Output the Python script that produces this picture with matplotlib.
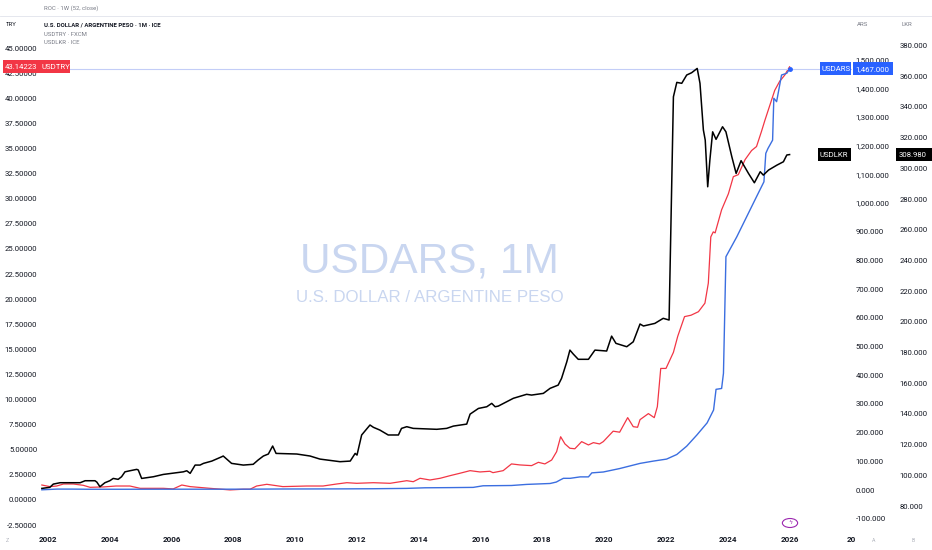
import matplotlib
matplotlib.use('Agg')
import matplotlib.pyplot as plt
import matplotlib.transforms as mtransforms
from matplotlib.patches import Rectangle, Circle
from matplotlib.ticker import FixedLocator, FuncFormatter

W, H = 932, 550

# USDLKR (black, right-most LKR scale)
lkr_t = [2001.80, 2002.06, 2002.17, 2002.39, 2003.04, 2003.20, 2003.52, 2003.58, 2003.68, 2003.84,
         2004.00, 2004.11, 2004.27, 2004.38, 2004.49, 2004.65, 2004.87, 2004.92, 2005.03, 2005.41,
         2005.73, 2006.38, 2006.49, 2006.60, 2006.76, 2006.92, 2007.03, 2007.30, 2007.62, 2007.67,
         2007.94, 2008.32, 2008.64, 2008.80, 2008.97, 2009.13, 2009.27, 2009.38, 2010.05, 2010.48,
         2010.80, 2011.45, 2011.78, 2011.94, 2012.00, 2012.15, 2012.42, 2012.53, 2012.74, 2013.01,
         2013.34, 2013.44, 2013.61, 2013.82, 2014.58, 2014.90, 2015.12, 2015.55, 2015.66, 2015.93,
         2016.20, 2016.36, 2016.47, 2016.57, 2017.06, 2017.49, 2017.65, 2018.03, 2018.25, 2018.51,
         2018.62, 2018.79, 2018.89, 2019.00, 2019.16, 2019.49, 2019.70, 2020.08, 2020.24, 2020.38,
         2020.73, 2020.94, 2021.16, 2021.27, 2021.64, 2021.91, 2022.10, 2022.24, 2022.35, 2022.51,
         2022.67, 2022.83, 2023.01, 2023.10, 2023.21, 2023.27, 2023.35, 2023.42, 2023.51, 2023.62,
         2023.83, 2023.94, 2024.13, 2024.27, 2024.43, 2024.67, 2024.86, 2025.05, 2025.15, 2025.32,
         2025.59, 2025.80, 2025.91, 2026.00]
lkr_v = [91.5, 92.2, 94.3, 95.2, 95.2, 96.5, 96.5, 95.6, 92.6, 95.2,
         96.5, 98.0, 97.4, 99.1, 102.3, 103.0, 103.9, 103.5, 98.0, 99.1,
         100.6, 102.3, 103.0, 101.3, 106.7, 106.7, 107.8, 109.3, 112.1, 112.6,
         107.8, 106.7, 107.2, 110.0, 112.6, 113.9, 119.1, 114.3, 113.9, 112.6,
         110.6, 108.9, 109.3, 114.3, 113.2, 126.3, 132.8, 131.3, 129.5, 126.3,
         126.3, 130.6, 131.7, 130.6, 130.0, 130.6, 132.1, 133.4, 139.9, 143.6,
         144.7, 146.9, 144.7, 145.1, 150.2, 152.8, 152.3, 153.4, 156.7, 158.8,
         163.2, 174.0, 181.6, 179.0, 175.6, 175.6, 181.6, 181.0, 190.7, 186.0,
         183.8, 187.0, 198.6, 197.3, 199.0, 202.3, 201.2, 346.6, 356.0, 355.4,
         360.8, 362.3, 365.1, 355.4, 325.0, 318.4, 288.0, 305.4, 323.8, 318.9,
         327.1, 323.8, 307.6, 296.7, 305.0, 296.7, 290.6, 297.8, 295.6, 298.9,
         302.1, 304.3, 308.7, 308.98]

# USDTRY (red, left TRY scale)
try_t = [2001.80, 2002.06, 2002.28, 2002.50, 2002.82, 2003.14, 2003.36, 2003.80, 2004.20, 2004.65,
         2004.98, 2005.73, 2006.05, 2006.33, 2006.60, 2007.24, 2007.89, 2008.32, 2008.54, 2008.75,
         2009.08, 2009.60, 2010.37, 2010.90, 2011.34, 2011.67, 2011.99, 2012.53, 2013.07, 2013.61,
         2013.82, 2014.04, 2014.36, 2014.69, 2015.01, 2015.33, 2015.66, 2015.98, 2016.30, 2016.40,
         2016.73, 2017.00, 2017.27, 2017.65, 2017.87, 2018.08, 2018.30, 2018.46, 2018.59, 2018.73,
         2018.89, 2019.05, 2019.27, 2019.49, 2019.65, 2019.85, 2019.97, 2020.29, 2020.50, 2020.76,
         2020.94, 2021.08, 2021.16, 2021.43, 2021.62, 2021.72, 2021.83, 2022.00, 2022.24, 2022.38,
         2022.60, 2022.81, 2023.05, 2023.26, 2023.37, 2023.45, 2023.53, 2023.59, 2023.80, 2024.02,
         2024.18, 2024.34, 2024.56, 2024.77, 2024.93, 2025.09, 2025.20, 2025.36, 2025.52, 2025.68,
         2025.84, 2026.00]
try_v = [1.49, 1.33, 1.39, 1.59, 1.59, 1.46, 1.26, 1.30, 1.39, 1.39,
         1.16, 1.16, 1.10, 1.49, 1.33, 1.16, 1.00, 1.07, 1.07, 1.39,
         1.56, 1.33, 1.39, 1.39, 1.59, 1.72, 1.66, 1.72, 1.66, 1.92,
         1.82, 2.16, 1.99, 2.16, 2.42, 2.66, 2.92, 2.79, 2.86, 2.72,
         2.92, 3.59, 3.49, 3.42, 3.75, 3.59, 3.98, 4.81, 6.30, 5.58,
         5.15, 5.10, 5.81, 5.48, 5.71, 5.58, 5.81, 6.85, 6.75, 8.20,
         7.30, 7.24, 8.00, 8.60, 8.20, 9.29, 13.10, 13.10, 14.70, 16.30,
         18.26, 18.40, 18.75, 19.60, 21.60, 26.20, 26.70, 26.60, 28.90, 30.50,
         32.20, 32.40, 33.90, 34.80, 35.20, 36.70, 37.80, 39.30, 40.80, 41.70,
         42.30, 43.14223]

# USDARS (blue, ARS scale)
ars_t = [2001.80, 2002.30, 2002.80, 2003.30, 2004.50, 2006.00, 2007.50, 2008.50, 2009.50, 2010.50,
         2011.45, 2012.50, 2013.60, 2014.20, 2015.00, 2015.76, 2016.08, 2017.00, 2017.49, 2018.25,
         2018.45, 2018.57, 2018.68, 2018.90, 2019.22, 2019.49, 2019.60, 2019.97, 2020.50, 2021.16,
         2021.59, 2022.02, 2022.35, 2022.67, 2023.00, 2023.33, 2023.54, 2023.62, 2023.80, 2023.86,
         2023.94, 2024.29, 2024.61, 2024.93, 2025.17, 2025.23, 2025.30, 2025.45, 2025.49, 2025.58,
         2025.74, 2025.91, 2026.00]
ars_v = [1.0, 3.5, 3.4, 2.9, 2.9, 3.1, 3.1, 3.2, 3.8, 3.95,
         4.2, 4.7, 5.9, 8.0, 8.6, 9.4, 15.0, 16.0, 19.8, 23.0,
         28.0, 35.0, 41.0, 41.0, 46.0, 46.0, 60.0, 63.0, 75.0, 93.0,
         101.0, 108.0, 124.0, 153.0, 192.0, 234.0, 279.0, 351.0, 354.0, 407.0,
         813.0, 882.0, 952.0, 1022.0, 1074.0, 1173.0, 1190.0, 1219.0, 1365.0, 1353.0,
         1446.0, 1452.0, 1467.0]

try_ticks = [-2.5 + 2.5 * i for i in range(20)]
ars_ticks = [-100 + 100 * i for i in range(17)]
lkr_ticks = [80 + 20 * i for i in range(16)]
year_ticks = list(range(2002, 2030, 2))
year_labels = [str(y) for y in year_ticks[:-1]] + ['20']

RED = '#f23645'
BLUE = '#2962ff'
BLUE_LINE = '#3b6ee0'
TXT = '#131722'
GRAY = '#787b86'

plt.rcParams['font.family'] = ['Roboto', 'DejaVu Sans']

fig = plt.figure(figsize=(W / 100, H / 100), dpi=100)
fig.patch.set_facecolor('white')

left, right, top, bottom = 40, 852, 17, 532
ax = fig.add_axes([left / W, 1 - bottom / H, (right - left) / W, (bottom - top) / H])
ax_ars = ax.twinx()
ax_lkr = ax.twinx()

ax.set_xlim(2001.74, 2028.02)
ax.set_ylim(-3.19, 48.1)
ax_ars.set_ylim(-146, 1648)
ax_lkr.set_ylim(63.1, 398.6)

for a in (ax, ax_ars, ax_lkr):
    for s in a.spines.values():
        s.set_visible(False)
    a.tick_params(length=0, colors=TXT, labelsize=5.6)

# watermark
ax.text(0.48, 0.525, 'USDARS, 1M', transform=ax.transAxes, ha='center', va='center',
        fontsize=30.5, color='#c9d6f0', family='Liberation Sans', zorder=0)
ax.text(0.48, 0.455, 'U.S. DOLLAR / ARGENTINE PESO', transform=ax.transAxes, ha='center',
        va='center', fontsize=12.2, color='#c9d6f0', family='Liberation Sans', zorder=0)

ax_ars.axhline(ars_v[-1], color='#c3cdf7', lw=0.8, zorder=1)

ax_ars.plot(ars_t, ars_v, color=BLUE_LINE, lw=1.0, zorder=3)
ax.plot(try_t, try_v, color=RED, lw=0.9, zorder=4)
ax_lkr.plot(lkr_t, lkr_v, color='black', lw=1.1, zorder=5)
ax_ars.plot([ars_t[-1]], [ars_v[-1]], 'o', color=BLUE, ms=2.5, zorder=6)

ax.set_xticks(year_ticks)
ax.set_xticklabels(year_labels, fontsize=5.8, fontweight='bold')
ax.tick_params(axis='x', pad=3)

ax.yaxis.set_major_locator(FixedLocator(try_ticks))
ax.yaxis.set_major_formatter(FuncFormatter(lambda v, p: f'{v:.5f}'))
ax.tick_params(axis='y', pad=2)

ax_ars.yaxis.set_major_locator(FixedLocator(ars_ticks))
ax_ars.yaxis.set_major_formatter(FuncFormatter(lambda v, p: f'{v:,.3f}'))
ax_ars.tick_params(axis='y', pad=2.5)

ax_lkr.yaxis.set_major_locator(FixedLocator(lkr_ticks))
ax_lkr.yaxis.set_major_formatter(FuncFormatter(lambda v, p: f'{v:.3f}'))
ax_lkr.tick_params(axis='y', pad=34)


def px(x):
    return x / W


def label_box(axis, value, x0, x1, color, texts):
    tr = mtransforms.blended_transform_factory(fig.transFigure, axis.transData)
    yy = fig.transFigure.inverted().transform(axis.transData.transform((0, value)))[1]
    h = 13 / H
    fig.add_artist(Rectangle((px(x0), yy - h / 2), px(x1 - x0), h, transform=fig.transFigure,
                             facecolor=color, edgecolor='none', zorder=10))
    for tx, s in texts:
        fig.text(px(tx), value, s, transform=tr, color='white', fontsize=5.6, ha='left',
                 va='center', zorder=11)


label_box(ax, try_v[-1], 3, 70, RED, [(5, f'{try_v[-1]:.5f}'), (41, 'USDTRY')])
label_box(ax_ars, ars_v[-1], 820, 851, BLUE, [(822, 'USDARS')])
label_box(ax_ars, ars_v[-1], 853, 893, BLUE, [(855, f'{ars_v[-1]:,.3f}')])
label_box(ax_lkr, lkr_v[-1], 818, 851, '#000000', [(820, 'USDLKR')])
label_box(ax_lkr, lkr_v[-1], 896, 932, '#000000', [(899, f'{lkr_v[-1]:.3f}')])

# header / legend
fig.add_artist(plt.Line2D([0, 1], [1 - 16 / H, 1 - 16 / H], color='#e0e3eb', lw=0.6))
fig.text(px(44), 1 - 8 / H, 'ROC · 1W (52, close)', fontsize=4.3, color=GRAY, va='center')
fig.text(px(6), 1 - 25 / H, 'TRY', fontsize=4.3, color=TXT, va='center')
fig.text(px(44), 1 - 25 / H, 'U.S. DOLLAR / ARGENTINE PESO · 1M · ICE', fontsize=4.3,
         color=TXT, fontweight='bold', va='center')
fig.text(px(44), 1 - 34 / H, 'USDTRY · FXCM', fontsize=4.3, color=GRAY, va='center')
fig.text(px(44), 1 - 43 / H, 'USDLKR · ICE', fontsize=4.3, color=GRAY, va='center')
fig.text(px(857), 1 - 25 / H, 'ARS', fontsize=4.3, color=GRAY, va='center')
fig.text(px(902), 1 - 25 / H, 'LKR', fontsize=4.3, color=GRAY, va='center')

# bottom icons
fig.text(px(6), 1 - 540 / H, 'Z', fontsize=3.8, color='#b2b5be', va='center')
fig.text(px(872), 1 - 540 / H, 'A', fontsize=3.8, color='#b2b5be', va='center')
fig.text(px(912), 1 - 540 / H, 'B', fontsize=3.8, color='#b2b5be', va='center')
fig.add_artist(Circle((px(790), 1 - 523 / H), 4.5 / H, transform=fig.transFigure,
                      facecolor='white', edgecolor='#9c27b0', lw=0.8))
fig.text(px(790), 1 - 523 / H, 'ϟ', fontsize=4.5, color='#9c27b0', ha='center', va='center',
         family='DejaVu Sans')

fig.savefig('out.png', dpi=100, facecolor='white')
